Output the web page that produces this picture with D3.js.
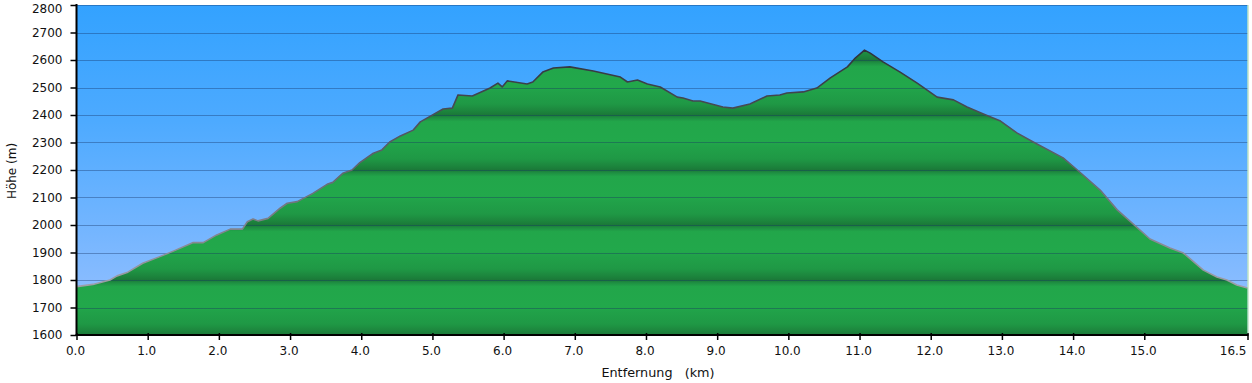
<!DOCTYPE html>
<html>
<head>
<meta charset="utf-8">
<script src="https://cdn.jsdelivr.net/npm/d3@7/dist/d3.min.js"></script>
<style>
  html, body { margin: 0; padding: 0; background: #fff; }
  svg { display: block; font-family: "DejaVu Sans", Verdana, sans-serif; }
</style>
</head>
<body>
<svg id="chart" width="1252" height="383"></svg>
<script>
// ---- data ----
const distanceKm = [0.00,0.23,0.47,0.57,0.71,0.93,1.17,1.36,1.64,1.78,1.97,2.16,2.33,2.40,2.48,2.55,2.69,2.86,2.96,3.10,3.32,3.52,3.60,3.74,3.87,3.98,4.17,4.29,4.40,4.55,4.73,4.83,5.15,5.28,5.36,5.56,5.81,5.92,5.98,6.05,6.33,6.41,6.55,6.70,6.93,7.26,7.45,7.64,7.74,7.88,8.02,8.20,8.44,8.52,8.66,8.76,9.08,9.22,9.46,9.70,9.88,9.98,10.21,10.40,10.59,10.83,10.94,11.07,11.15,11.33,11.57,11.81,12.09,12.32,12.51,12.74,12.98,13.21,13.44,13.86,14.06,14.38,14.62,14.83,15.08,15.36,15.55,15.83,16.02,16.16,16.30,16.45];
const elevationM = [1776,1784,1800,1815,1827,1861,1885,1905,1936,1936,1964,1985,1985,2012,2022,2015,2024,2061,2079,2085,2115,2148,2155,2188,2200,2227,2261,2273,2302,2324,2345,2375,2422,2425,2473,2469,2498,2516,2502,2524,2513,2520,2556,2571,2575,2560,2549,2538,2520,2527,2513,2502,2465,2462,2451,2451,2429,2425,2440,2469,2473,2480,2484,2498,2535,2575,2607,2636,2625,2593,2556,2516,2465,2455,2429,2404,2378,2335,2302,2244,2200,2127,2055,2007,1949,1916,1898,1836,1811,1800,1782,1771];
const yTicks = [1600,1700,1800,1900,2000,2100,2200,2300,2400,2500,2600,2700,2800];
const xTicks = [0,1,2,3,4,5,6,7,8,9,10,11,12,13,14,15,16.45];
const xTickLabels = ["0.0","1.0","2.0","3.0","4.0","5.0","6.0","7.0","8.0","9.0","10.0","11.0","12.0","13.0","14.0","15.0","16.5"];
const xTitle = "Entfernung   (km)";
const yTitle = "Höhe (m)";

const points = distanceKm.map((d, i) => ({ d, e: elevationM[i] }));

const svg = d3.select("#chart");
const x = d3.scaleLinear().domain([0, 16.45]).range([76.5, 1247.5]);
const y = d3.scaleLinear().domain([1600, 2800]).range([335, 5]);

const defs = svg.append("defs");
// sky gradient
const sky = defs.append("linearGradient").attr("id", "sky")
  .attr("gradientUnits", "userSpaceOnUse").attr("x1", 0).attr("x2", 0).attr("y1", y(2800)).attr("y2", y(1600));
[[0, "#33a2ff"], [0.35, "#4daaff"], [0.7, "#76b6ff"], [1, "#9cc2ff"]].forEach(s =>
  sky.append("stop").attr("offset", s[0]).attr("stop-color", s[1]));

// green band gradient inside pattern (period 200 m)
const band = y(1600) - y(1800);
const bandGrad = defs.append("linearGradient").attr("id", "bandGrad")
  .attr("x1", 0).attr("x2", 0).attr("y1", 0).attr("y2", 1);
[[0, "#1b7838"], [0.05, "#1e8f42"], [0.12, "#22a64a"], [0.48, "#22a84b"], [0.56, "#21a249"],
 [0.8, "#1f9845"], [0.94, "#1c833c"], [1, "#1b7838"]].forEach(s =>
  bandGrad.append("stop").attr("offset", s[0]).attr("stop-color", s[1]));
const pat = defs.append("pattern").attr("id", "bands")
  .attr("patternUnits", "userSpaceOnUse")
  .attr("x", 0).attr("y", y(2800)).attr("width", 1252).attr("height", band);
pat.append("rect").attr("width", 1252).attr("height", band).attr("fill", "url(#bandGrad)");

// stroke gradient
const sg = defs.append("linearGradient").attr("id", "strokeGrad")
  .attr("gradientUnits", "userSpaceOnUse").attr("x1", 0).attr("x2", 0).attr("y1", y(2650)).attr("y2", y(1750));
[[0, "#2c3038"], [0.5, "#626670"], [1, "#a2a2aa"]].forEach(s =>
  sg.append("stop").attr("offset", s[0]).attr("stop-color", s[1]));

// plot background
svg.append("rect").attr("x", x(0)).attr("y", y(2800))
  .attr("width", x(16.45) - x(0)).attr("height", y(1600) - y(2800)).attr("fill", "url(#sky)");

// area
const area = d3.area().x(p => x(p.d)).y0(y(1600)).y1(p => y(p.e));
svg.append("path").datum(points).attr("d", area).attr("fill", "url(#bands)");

// gridlines
svg.append("g").selectAll("line").data(yTicks.filter(t => t > 1600)).join("line")
  .attr("x1", x(0)).attr("x2", x(16.45))
  .attr("y1", t => Math.round(y(t)) + 0.5).attr("y2", t => Math.round(y(t)) + 0.5)
  .attr("stroke", "rgba(20,50,100,0.38)").attr("stroke-width", 1);

// profile line
const line = d3.line().x(p => x(p.d)).y(p => y(p.e));
svg.append("path").datum(points).attr("d", line)
  .attr("fill", "none").attr("stroke", "url(#strokeGrad)").attr("stroke-width", 1.6)
  .attr("stroke-linejoin", "round");

// right edge line
svg.append("line").attr("x1", x(16.45) + 0.5).attr("x2", x(16.45) + 0.5)
  .attr("y1", y(2800)).attr("y2", y(1600)).attr("stroke", "#9fd6a8").attr("stroke-width", 1);

// y axis
const yAxis = svg.append("g").attr("transform", `translate(${x(0)},0)`)
  .call(d3.axisLeft(y).tickValues(yTicks).tickFormat(d3.format("d")).tickSize(6).tickPadding(8));
yAxis.select(".domain").attr("stroke", "#000").attr("stroke-width", 2).attr("d", `M0,${y(2800) - 1}V${y(1600)}`);
yAxis.selectAll(".tick line").attr("stroke", "#000").attr("stroke-width", 1.5);
yAxis.selectAll(".tick text").attr("font-size", 12).attr("fill", "#111")
  .attr("font-family", "DejaVu Sans, Verdana, sans-serif")
  .attr("dy", d => d === 2800 ? "0.62em" : "0.32em");

// x axis
const xAxis = svg.append("g").attr("transform", `translate(0,${y(1600)})`)
  .call(d3.axisBottom(x).tickValues(xTicks).tickFormat((d, i) => xTickLabels[i]).tickSize(5).tickPadding(6));
xAxis.select(".domain").attr("stroke", "#000").attr("stroke-width", 2).attr("d", `M${x(0) - 1},0H${x(16.45) + 1}`);
xAxis.selectAll(".tick line").attr("stroke", "#000").attr("stroke-width", 1.5).attr("y1", -2);
xAxis.selectAll(".tick text").attr("font-size", 12).attr("fill", "#111")
  .attr("font-family", "DejaVu Sans, Verdana, sans-serif")
  .attr("dx", -1.5)
  .attr("text-anchor", (d, i) => i === xTicks.length - 1 ? "end" : "middle");

// titles
svg.append("text").attr("x", 658).attr("y", 377).attr("text-anchor", "middle")
  .attr("font-size", 12.8).attr("fill", "#111").style("white-space", "pre").text(xTitle);
svg.append("text").attr("transform", "translate(16,171) rotate(-90)").attr("text-anchor", "middle")
  .attr("font-size", 12).attr("fill", "#111").text(yTitle);
</script>
</body>
</html>
